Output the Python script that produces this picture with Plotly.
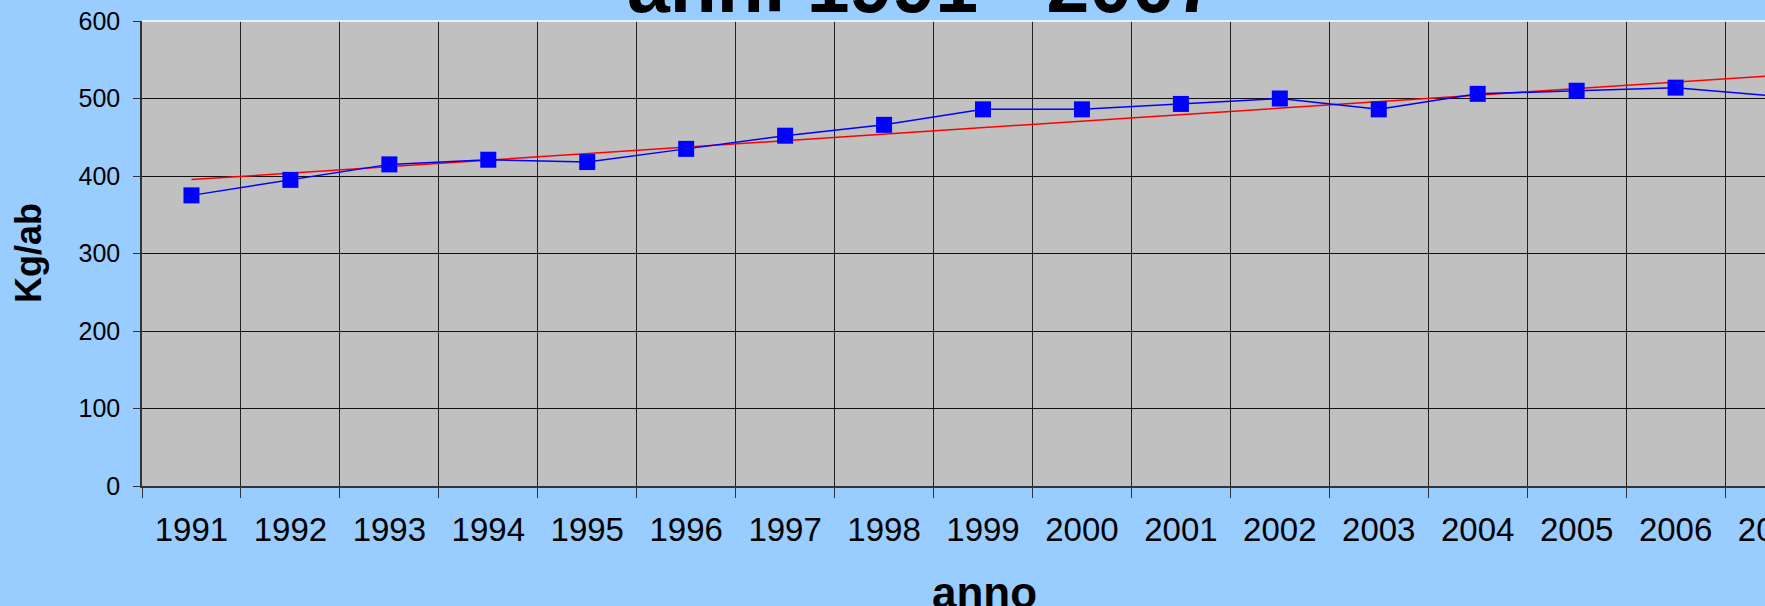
import numpy as np
import plotly.graph_objects as go

anni = ['1991', '1992', '1993', '1994', '1995', '1996', '1997', '1998', '1999',
        '2000', '2001', '2002', '2003', '2004', '2005', '2006', '2007']
kg_ab = [375, 395, 415, 421, 418, 435, 452, 466, 486,
         486, 493, 500, 486, 506, 510, 514, 503]

# linear trendline as in the spreadsheet
idx = np.arange(len(anni))
slope, intercept = np.polyfit(idx, kg_ab, 1)
trend = slope * idx + intercept

FONT = 'Liberation Sans, Arial, sans-serif'

fig = go.Figure()
fig.add_trace(go.Scatter(x=anni, y=trend, mode='lines',
                         line=dict(color='#FF0000', width=1.5), showlegend=False))
fig.add_trace(go.Scatter(x=anni, y=kg_ab, mode='lines+markers',
                         line=dict(color='#0000FF', width=1.5),
                         marker=dict(symbol='square', size=16, color='#0000FF'),
                         showlegend=False))

# the original chart is wider than the window: its right part is cut off
fig.update_layout(width=1824, height=606, autosize=False,
                  paper_bgcolor='#99CCFF', plot_bgcolor='#C0C0C0',
                  margin={'l': 142, 'r': 0, 't': 21, 'b': 120},
                  font=dict(family=FONT, color='black'))
fig.update_xaxes(type='category', range=[-0.5, 16.5], tickson='boundaries',
                 ticks='outside', ticklen=10, tickcolor='#333333',
                 showgrid=True, gridcolor='#222222', gridwidth=1,
                 showline=True, linecolor='#333333', linewidth=1.5,
                 tickfont=dict(size=33), ticklabelstandoff=14)
fig.update_yaxes(range=[0, 600], dtick=100, ticks='outside', ticklen=7,
                 tickcolor='#333333', showgrid=True, gridcolor='#111111',
                 gridwidth=1, showline=True, linecolor='#333333', linewidth=1.5,
                 zeroline=False, tickfont=dict(size=25), ticklabelstandoff=8)

# top border of plot area
fig.add_shape(type='line', xref='paper', yref='paper', x0=0, x1=1, y0=1, y1=1,
              line=dict(color='white', width=1.5))

fig.add_annotation(x=(922 - 142) / 1682, y=1, xref='paper', yref='paper',
                   yanchor='bottom', text='<b>anni 1991 - 2007</b>',
                   showarrow=False, font=dict(size=77), yshift=-9)
fig.add_annotation(x=(984 - 142) / 1682, y=0, xref='paper', yref='paper',
                   yanchor='top', text='<b>anno</b>', showarrow=False,
                   font=dict(size=44), yshift=-80)
fig.add_annotation(x=0, y=0.5, xref='paper', yref='paper', xanchor='right',
                   text='<b>Kg/ab</b>', showarrow=False, textangle=-90,
                   font=dict(size=36), xshift=-91)

fig.write_html("out.html", config={'displayModeBar': False},
               post_script="document.body.style.margin='0';"
                           "document.body.style.overflow='hidden';")
